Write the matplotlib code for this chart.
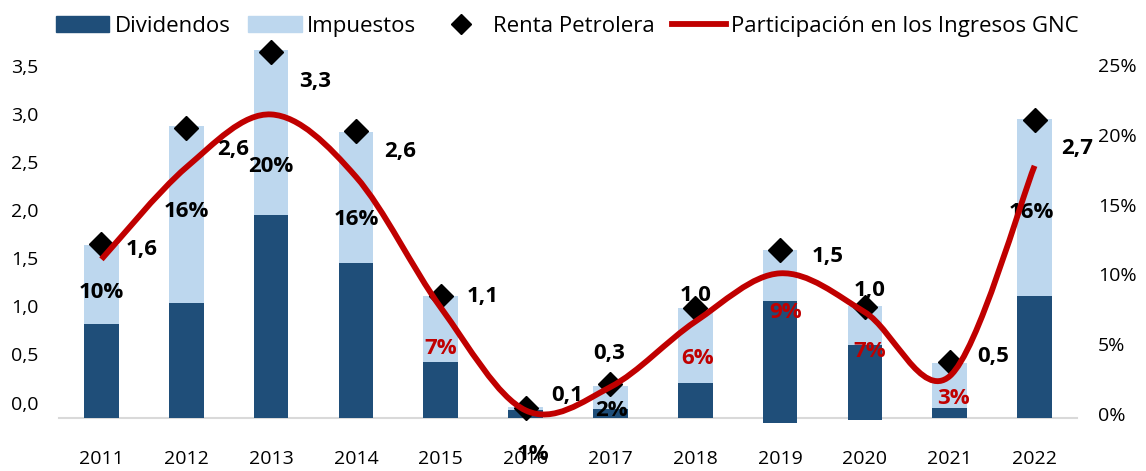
import numpy as np
import matplotlib
matplotlib.use("Agg")
import matplotlib.pyplot as plt
from matplotlib.path import Path
from matplotlib.patches import PathPatch, Patch
from matplotlib.lines import Line2D

plt.rcParams['font.family'] = ['Open Sans', 'DejaVu Sans']

# --- data ---
years = ['2011', '2012', '2013', '2014', '2015', '2016',
         '2017', '2018', '2019', '2020', '2021', '2022']
dividendos = [0.85, 1.04, 1.83, 1.40, 0.51, 0.07, 0.08, 0.32, 1.06, 0.66, 0.09, 1.10]
div_base = [0, 0, 0, 0, 0, 0, 0, 0, -0.045, -0.02, 0, 0]   # small negative part under the axis
impuestos = [0.71, 1.60, 1.49, 1.18, 0.59, 0.03, 0.21, 0.67, 0.46, 0.35, 0.41, 1.60]
renta = [1.57, 2.62, 3.31, 2.59, 1.10, 0.09, 0.31, 0.99, 1.52, 1.00, 0.51, 2.69]
participacion = [10.3, 16.2, 19.6, 15.6, 7.2, 0.6, 2.1, 6.3, 9.4, 6.9, 2.8, 16.3]

# --- layout / style ---
dark = '#1F4E79'
light = '#BDD7EE'
red = '#C00000'
pct_colors = ['black', 'black', 'black', 'black', red, 'black',
              'black', red, red, red, red, 'black']
pct_y = [1.13, 1.87, 2.27, 1.79, 0.63, -0.33, 0.07, 0.54, 0.95, 0.60, 0.18, 1.86]
pct_dx = [0, 0, 0, 0, 0, 7, 1, 2, 5, 5, 4, -3]
renta_off = [(40, -5), (47, -22), (44, -30), (44, -20), (42, 0), (42, 13),
             (-1, 30), (0, 13), (48, -7), (5, 17), (43, 5), (43, -28)]

fig = plt.figure(figsize=(11.46, 4.71), dpi=100)
rect = [0.0515, 0.1125, 0.8883, 0.8132]

# visible tick-label axes (left values, right percents)
axL = fig.add_axes(rect, frameon=False)
axL.set_xticks([])
axL.set_ylim(-0.161, 3.824)
ticksL = np.arange(0, 3.51, 0.5)
axL.set_yticks(ticksL)
axL.set_yticklabels([f"{t:.1f}".replace('.', ',') for t in ticksL])
axL.tick_params(axis='y', length=0, pad=15, labelsize=14)

axR = fig.add_axes(rect, frameon=False)
axR.set_xticks([])
axR.yaxis.tick_right()
axR.set_ylim(-0.29, 27.15)
ticksR = np.arange(0, 26, 5)
axR.set_yticks(ticksR)
axR.set_yticklabels([f"{t:.0f}%" for t in ticksR])
axR.tick_params(axis='y', length=0, pad=15, labelsize=14)

# data axes
ax = fig.add_axes(rect)
ax.patch.set_visible(False)
x = np.arange(len(years))
w = 0.41
div_h = [d - b for d, b in zip(dividendos, div_base)]
ax.bar(x, div_h, w, bottom=div_base, color=dark, clip_on=False, zorder=2)
ax.bar(x, impuestos, w, bottom=dividendos, color=light, clip_on=False, zorder=2)
ax.plot(x, renta, linestyle='none', marker='D', markersize=12, color='black',
        clip_on=False, zorder=3)
ax.set_xlim(-0.5, len(years) - 0.5)
ax.set_ylim(0, 3.46)
ax.set_xticks(x)
ax.set_xticklabels(years)
ax.set_yticks([])
ax.tick_params(axis='x', length=0, pad=23, labelsize=14)
for s in ['top', 'left', 'right']:
    ax.spines[s].set_visible(False)
ax.spines['bottom'].set_color('#D9D9D9')
ax.spines['bottom'].set_linewidth(1.5)
ax.spines['bottom'].set_zorder(1)

# smoothed line (Excel-like bezier) on its own scale
ax2 = ax.twinx()
ax2.set_ylim(0.11, 24.7)
ax2.set_yticks([])
for s in ax2.spines.values():
    s.set_visible(False)
ys = np.array(participacion)
n = len(ys)
verts = [(x[0], ys[0])]
codes = [Path.MOVETO]
for i in range(n - 1):
    x0, y0 = (x[i - 1], ys[i - 1]) if i > 0 else (x[i], ys[i])
    x3, y3 = (x[i + 2], ys[i + 2]) if i + 2 < n else (x[i + 1], ys[i + 1])
    c1 = (x[i] + (x[i + 1] - x0) / 6, ys[i] + (ys[i + 1] - y0) / 6)
    c2 = (x[i + 1] - (x3 - x[i]) / 6, ys[i + 1] - (y3 - ys[i]) / 6)
    verts += [c1, c2, (x[i + 1], ys[i + 1])]
    codes += [Path.CURVE4] * 3
ax2.add_patch(PathPatch(Path(verts, codes), facecolor='none', edgecolor=red,
                        linewidth=4.2, capstyle='butt', zorder=4))

# labels on top of everything
for i in range(n):
    ax2.annotate(f"{renta[i]:.1f}".replace('.', ','), (x[i], renta[i]),
                 xycoords=ax.transData, xytext=renta_off[i],
                 textcoords='offset pixels', ha='center', va='center',
                 fontsize=16, fontweight='bold', color='black',
                 annotation_clip=False)
    ax2.annotate(f"{participacion[i]:.0f}%", (x[i], pct_y[i]),
                 xycoords=ax.transData, xytext=(pct_dx[i], 0),
                 textcoords='offset pixels', ha='center', va='center',
                 fontsize=16, fontweight='bold', color=pct_colors[i],
                 annotation_clip=False)

handles = [Patch(color=dark, label='Dividendos'),
           Patch(color=light, label='Impuestos'),
           Line2D([], [], linestyle='none', marker='D', markersize=10,
                  color='black', label='Renta Petrolera'),
           Line2D([], [], color=red, linewidth=4.2, label='Participación en los Ingresos GNC')]
fig.legend(handles=handles, loc='center', bbox_to_anchor=(0.495, 0.944), ncol=4,
           frameon=False, fontsize=16, handlelength=2.4, handleheight=0.7,
           handletextpad=0.25, columnspacing=0.8, borderaxespad=0)

fig.savefig('out.png', dpi=100)
